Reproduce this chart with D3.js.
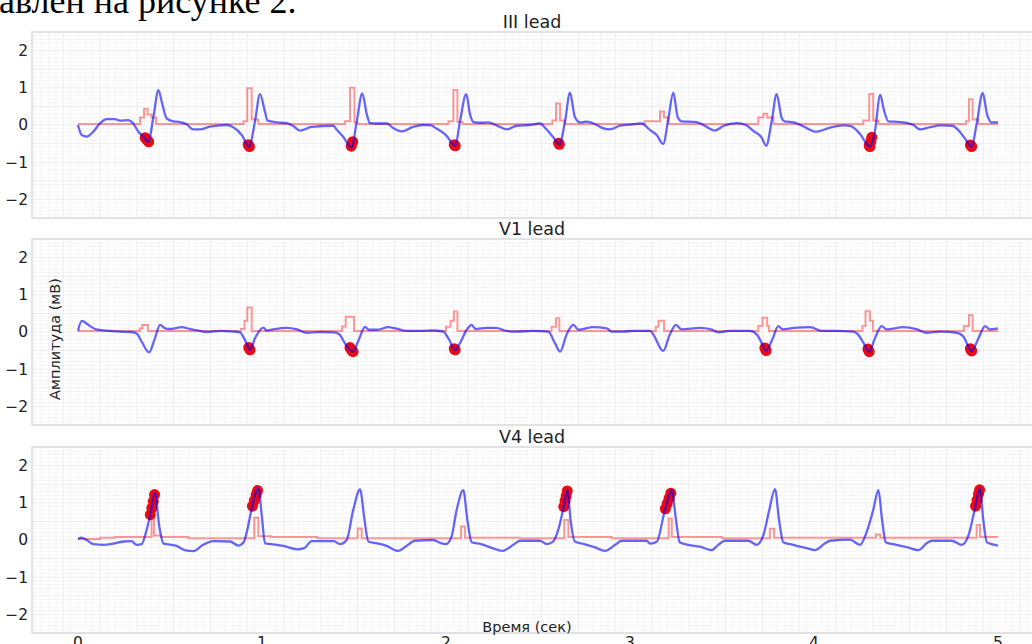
<!DOCTYPE html>
<html>
<head>
<meta charset="utf-8">
<script src="https://cdn.jsdelivr.net/npm/d3@7"></script>
<style>
  body { margin: 0; background: #fff; }
  #chart { width: 1032px; height: 644px; overflow: hidden; }
  text { font-family: "DejaVu Sans", sans-serif; fill: #222; }
</style>
</head>
<body>
<div id="chart"></div>
<script>
// Lead names, ticks
const leadNames = ["III lead", "V1 lead", "V4 lead"];
const xTicks = [0, 1, 2, 3, 4, 5];
const yTicks = [-2, -1, 0, 1, 2];

// Lead III: signal [time, mV], detector output (step), marked points
const leadIII = [[0,0],[0.02,-0.27],[0.047,-0.31],[0.083,-0.18],[0.12,0.05],[0.156,0.16],[0.2,0.16],[0.228,0.12],[0.273,0.13],[0.3,0.04],[0.328,-0.18],[0.355,-0.31],[0.382,-0.45],[0.41,0.22],[0.437,0.94],[0.455,0.63],[0.482,0.18],[0.518,0.1],[0.554,0.08],[0.59,0.02],[0.627,-0.12],[0.663,-0.12],[0.71,-0.05],[0.754,-0.02],[0.808,0.0],[0.844,-0.06],[0.89,-0.27],[0.93,-0.58],[0.962,0.1],[0.989,0.83],[1.016,0.36],[1.03,0.12],[1.08,0.07],[1.134,0.05],[1.17,-0.03],[1.207,-0.15],[1.27,-0.05],[1.388,-0.02],[1.405,-0.12],[1.44,-0.31],[1.487,-0.6],[1.515,0.1],[1.545,0.85],[1.57,0.28],[1.587,0.05],[1.62,0.04],[1.68,0.04],[1.713,-0.08],[1.76,-0.17],[1.82,-0.05],[1.877,0.0],[1.92,-0.01],[1.94,-0.07],[2.0,-0.27],[2.05,-0.56],[2.076,0.1],[2.11,0.83],[2.13,0.3],[2.15,0.08],[2.19,0.06],[2.23,0.07],[2.275,-0.01],[2.33,-0.12],[2.384,-0.02],[2.456,0.0],[2.51,0.04],[2.547,-0.12],[2.583,-0.33],[2.616,-0.52],[2.647,0.1],[2.674,0.87],[2.7,0.22],[2.728,0.07],[2.76,0.09],[2.82,0.0],[2.845,-0.07],[2.89,-0.12],[2.946,-0.02],[3.018,0.02],[3.063,0.04],[3.11,-0.14],[3.145,-0.27],[3.18,-0.51],[3.21,0.22],[3.235,0.87],[3.26,0.2],[3.28,0.1],[3.36,0.08],[3.41,-0.03],[3.46,-0.15],[3.51,-0.02],[3.58,0.05],[3.63,0.0],[3.67,-0.16],[3.715,-0.33],[3.74,-0.56],[3.77,0.1],[3.797,0.83],[3.825,0.18],[3.84,0.1],[3.89,0.07],[3.94,-0.03],[4.01,-0.18],[4.087,-0.07],[4.16,-0.01],[4.2,-0.03],[4.25,-0.24],[4.304,-0.58],[4.33,-0.2],[4.36,0.81],[4.38,0.4],[4.404,0.1],[4.467,0.08],[4.54,0.0],[4.576,-0.12],[4.63,-0.06],[4.685,-0.01],[4.75,-0.02],[4.787,-0.15],[4.82,-0.36],[4.857,-0.58],[4.884,0.03],[4.917,0.86],[4.94,0.3],[4.965,0.07],[5.0,0.07]];
const stepIII = [[0,0.03],[0.337,0.2],[0.359,0.44],[0.378,0.28],[0.4,0.2],[0.424,0.03],[0.9,0.1],[0.92,0.99],[0.944,0.15],[0.98,0.03],[1.451,0.1],[1.478,1.0],[1.502,0.07],[1.52,0.03],[2.013,0.1],[2.04,0.94],[2.062,0.08],[2.09,0.03],[2.578,0.12],[2.598,0.58],[2.62,0.12],[2.647,0.03],[3.08,0.1],[3.163,0.36],[3.185,0.2],[3.21,0.03],[3.697,0.2],[3.725,0.3],[3.746,0.2],[3.78,0.03],[4.268,0.12],[4.3,0.83],[4.322,0.12],[4.35,0.03],[4.826,0.1],[4.842,0.69],[4.862,0.15],[4.893,0.03],[5.0,0.03]];
const peaksIII = [[0.365,-0.34],[0.375,-0.4],[0.384,-0.45],[0.925,-0.53],[0.932,-0.58],[1.485,-0.57],[1.493,-0.45],[2.045,-0.53],[2.05,-0.56],[2.612,-0.49],[2.616,-0.52],[4.3,-0.55],[4.304,-0.58],[4.309,-0.45],[4.314,-0.33],[4.85,-0.54],[4.857,-0.58]];

// Lead V1
const leadV1 = [[0,0.03],[0.02,0.3],[0.065,0.16],[0.1,0.07],[0.174,0.03],[0.228,0.01],[0.29,0.0],[0.319,-0.04],[0.346,-0.26],[0.386,-0.55],[0.418,-0.17],[0.446,0.19],[0.473,0.1],[0.5,0.08],[0.563,0.13],[0.61,0.08],[0.663,0.03],[0.7,0.0],[0.772,0.03],[0.847,0.01],[0.88,-0.01],[0.908,-0.22],[0.935,-0.48],[0.962,-0.17],[1.007,0.12],[1.025,0.04],[1.06,0.07],[1.134,0.11],[1.19,0.07],[1.243,-0.02],[1.315,0.0],[1.39,-0.01],[1.42,-0.06],[1.45,-0.3],[1.493,-0.53],[1.525,-0.22],[1.56,0.14],[1.58,0.06],[1.625,0.06],[1.686,0.13],[1.73,0.09],[1.786,0.03],[1.86,0.03],[1.93,0.04],[1.985,0.01],[2.013,-0.17],[2.05,-0.48],[2.076,-0.3],[2.11,0.04],[2.14,0.19],[2.16,0.08],[2.22,0.11],[2.27,0.11],[2.33,0.03],[2.38,0.01],[2.47,0.03],[2.556,0.01],[2.592,-0.3],[2.62,-0.53],[2.656,-0.06],[2.692,0.19],[2.72,0.06],[2.8,0.13],[2.873,0.1],[2.9,0.01],[2.96,0.01],[3.018,0.03],[3.11,0.03],[3.127,-0.07],[3.18,-0.51],[3.217,-0.06],[3.25,0.19],[3.28,0.07],[3.38,0.11],[3.44,0.07],[3.48,-0.01],[3.54,0.03],[3.65,0.03],[3.69,-0.07],[3.716,-0.3],[3.74,-0.5],[3.775,-0.18],[3.806,0.16],[3.83,0.07],[3.89,0.11],[3.98,0.13],[4.04,0.03],[4.12,0.03],[4.214,0.01],[4.24,-0.07],[4.27,-0.3],[4.3,-0.53],[4.33,-0.18],[4.368,0.16],[4.395,0.07],[4.485,0.13],[4.56,0.07],[4.612,-0.02],[4.685,0.01],[4.775,-0.02],[4.81,-0.11],[4.857,-0.51],[4.893,-0.18],[4.93,0.16],[4.955,0.07],[5.0,0.1]];
const stepV1 = [[0,0.03],[0.337,0.1],[0.35,0.19],[0.38,0.03],[0.885,0.08],[0.905,0.3],[0.92,0.66],[0.944,0.03],[1.435,0.15],[1.455,0.41],[1.5,0.03],[2.0,0.14],[2.025,0.3],[2.043,0.55],[2.062,0.03],[2.574,0.14],[2.598,0.37],[2.616,0.03],[3.14,0.14],[3.155,0.3],[3.185,0.03],[3.697,0.16],[3.72,0.38],[3.745,0.16],[3.755,0.03],[4.263,0.16],[4.28,0.56],[4.304,0.3],[4.32,0.03],[4.815,0.16],[4.842,0.46],[4.862,0.03],[5.0,0.03]];
const peaksV1 = [[0.928,-0.42],[0.935,-0.48],[1.478,-0.42],[1.488,-0.5],[1.495,-0.53],[2.045,-0.45],[2.05,-0.48],[3.733,-0.43],[3.74,-0.5],[4.293,-0.46],[4.3,-0.53],[4.85,-0.45],[4.857,-0.51]];

// Lead V4
const leadV4 = [[0,0.03],[0.02,0.06],[0.047,0.0],[0.083,-0.11],[0.138,-0.13],[0.19,-0.1],[0.246,-0.04],[0.29,-0.03],[0.319,-0.13],[0.346,-0.11],[0.368,0.18],[0.391,0.63],[0.418,1.27],[0.442,0.36],[0.464,-0.09],[0.49,-0.12],[0.536,-0.16],[0.58,-0.27],[0.627,-0.3],[0.68,-0.13],[0.735,-0.03],[0.826,-0.04],[0.871,-0.15],[0.9,-0.06],[0.92,0.27],[0.944,0.85],[0.98,1.39],[1.0,0.6],[1.016,-0.09],[1.05,-0.11],[1.116,-0.16],[1.19,-0.25],[1.23,-0.22],[1.27,-0.03],[1.39,-0.03],[1.424,-0.11],[1.46,0.0],[1.496,0.81],[1.533,1.36],[1.557,0.54],[1.578,-0.04],[1.625,-0.09],[1.677,-0.16],[1.74,-0.29],[1.785,-0.16],[1.83,-0.02],[1.93,0.0],[1.975,-0.09],[2.0,-0.11],[2.03,0.09],[2.058,0.81],[2.094,1.34],[2.116,0.54],[2.14,-0.06],[2.19,-0.11],[2.248,-0.21],[2.307,-0.29],[2.366,-0.13],[2.402,-0.02],[2.51,-0.02],[2.547,-0.11],[2.58,-0.05],[2.61,0.27],[2.638,0.85],[2.66,1.34],[2.677,0.54],[2.7,-0.04],[2.75,-0.11],[2.81,-0.2],[2.864,-0.29],[2.92,-0.13],[2.955,-0.02],[3.09,-0.02],[3.11,-0.1],[3.145,-0.05],[3.19,0.81],[3.227,1.33],[3.25,0.54],[3.27,-0.06],[3.315,-0.13],[3.38,-0.18],[3.444,-0.27],[3.48,-0.13],[3.516,-0.02],[3.643,-0.02],[3.688,-0.13],[3.725,0.13],[3.757,0.81],[3.788,1.37],[3.81,0.54],[3.833,-0.06],[3.886,-0.13],[3.96,-0.22],[4.005,-0.27],[4.06,-0.09],[4.087,-0.02],[4.196,0.01],[4.25,-0.13],[4.28,0.13],[4.322,0.81],[4.35,1.34],[4.37,0.54],[4.39,-0.06],[4.447,-0.13],[4.51,-0.2],[4.567,-0.27],[4.612,-0.09],[4.64,-0.02],[4.748,-0.02],[4.803,-0.13],[4.84,0.13],[4.875,0.85],[4.902,1.39],[4.92,0.54],[4.94,-0.06],[5.0,-0.15]];
const stepV4 = [[0,0.03],[0.12,0.06],[0.2,0.08],[0.4,0.6],[0.413,0.12],[0.45,0.08],[0.6,0.05],[0.958,0.6],[0.98,0.1],[1.05,0.08],[1.3,0.05],[1.52,0.31],[1.542,0.05],[2.082,0.36],[2.103,0.06],[2.4,0.05],[2.643,0.54],[2.665,0.08],[2.9,0.05],[3.21,0.58],[3.227,0.08],[3.5,0.05],[3.76,0.3],[3.783,0.06],[4.337,0.15],[4.36,0.06],[4.884,0.4],[4.902,0.08],[5.0,0.08]];
const peaksV4 = [[0.393,0.68],[0.401,0.86],[0.409,1.04],[0.416,1.22],[0.948,0.91],[0.958,1.06],[0.968,1.21],[0.976,1.33],[2.64,0.9],[2.647,1.05],[2.653,1.18],[2.659,1.32],[3.192,0.84],[3.202,0.98],[3.212,1.12],[3.222,1.26],[4.878,0.91],[4.886,1.07],[4.894,1.23],[4.9,1.35]];

const signals = [leadIII, leadV1, leadV4];
const steps = [stepIII, stepV1, stepV4];
const peaks = [peaksIII, peaksV1, peaksV4];

let width = 1032, height = 644;
let panelTop = [32, 239, 447], panelHeight = 186;
let left = 32;

let svg = d3.select("#chart").append("svg")
    .attr("width", width)
    .attr("height", height);

// scrap of the document text above the figure
svg.append("text")
    .attr("x", -1)
    .attr("y", 13)
    .style("font-family", "'Liberation Serif', 'Times New Roman', serif")
    .style("font-size", "36px")
    .style("fill", "#000")
    .text("авлен на рисунке 2.");

let xScale = d3.scaleLinear().domain([-0.25, 5.25]).range([left, left + 1012]);

leadNames.forEach((name, i) => {
    let yScale = d3.scaleLinear().domain([-2.5, 2.5]).range([panelTop[i] + panelHeight, panelTop[i]]);
    let g = svg.append("g");

    // ECG paper grid
    let xs = d3.range(-6, 132).map(k => k * 0.04);
    let ys = d3.range(-25, 26).map(k => k * 0.1);
    g.selectAll(".vgrid").data(xs).enter().append("line")
        .attr("x1", d => xScale(d)).attr("x2", d => xScale(d))
        .attr("y1", yScale(-2.5)).attr("y2", yScale(2.5))
        .attr("stroke", (d, k) => (k + 1) % 5 == 0 ? "#e8e8e8" : "#f2f2f2")
        .attr("stroke-width", 0.8);
    g.selectAll(".hgrid").data(ys).enter().append("line")
        .attr("x1", left).attr("x2", width)
        .attr("y1", d => yScale(d)).attr("y2", d => yScale(d))
        .attr("stroke", (d, k) => k % 5 == 0 ? "#e8e8e8" : "#f2f2f2")
        .attr("stroke-width", 0.8);

    // frame
    g.append("rect")
        .attr("x", left).attr("y", panelTop[i])
        .attr("width", 1040 - left).attr("height", panelHeight)
        .attr("fill", "none")
        .attr("stroke", "#dadada")
        .attr("stroke-width", 1.4);

    // y axis labels
    let yAxis = g.append("g")
        .attr("transform", "translate(" + left + ",0)")
        .call(d3.axisLeft(yScale).tickValues(yTicks).tickSize(0).tickPadding(4)
            .tickFormat(d => d < 0 ? "\u2212" + Math.abs(d) : d));
    yAxis.select(".domain").remove();
    yAxis.selectAll("text").style("font-size", "15.5px").attr("fill", "#222");

    // title
    g.append("text")
        .attr("x", 532)
        .attr("y", panelTop[i] - 4)
        .attr("text-anchor", "middle")
        .style("font-size", "17.5px")
        .text(name);

    let line = d3.line()
        .x(d => xScale(d[0]))
        .y(d => yScale(d[1]));

    // detector output (step)
    g.append("path")
        .datum(steps[i])
        .attr("fill", "none")
        .attr("stroke", "red")
        .attr("stroke-opacity", 0.4)
        .attr("stroke-width", 2)
        .attr("d", line.curve(d3.curveStepAfter));

    // marked points
    g.selectAll(".peak").data(peaks[i]).enter().append("circle")
        .attr("cx", d => xScale(d[0]))
        .attr("cy", d => yScale(d[1]))
        .attr("r", 5.5)
        .attr("fill", "#ea0a14");

    // signal
    g.append("path")
        .datum(signals[i])
        .attr("fill", "none")
        .attr("stroke", "blue")
        .attr("stroke-opacity", 0.6)
        .attr("stroke-width", 2.3)
        .attr("d", line.curve(d3.curveMonotoneX));
});

// x tick labels under bottom panel
svg.selectAll(".xtick").data(xTicks).enter().append("text")
    .attr("x", d => xScale(d))
    .attr("y", 648)
    .attr("text-anchor", "middle")
    .style("font-size", "15.5px")
    .text(d => d);

// axis titles
svg.append("text")
    .attr("x", 527)
    .attr("y", 632)
    .attr("text-anchor", "middle")
    .style("font-size", "14.5px")
    .text("Время (сек)");

svg.append("text")
    .attr("transform", "translate(60,339) rotate(-90)")
    .attr("text-anchor", "middle")
    .style("font-size", "14.5px")
    .text("Амплитуда (мВ)");
</script>
</body>
</html>
